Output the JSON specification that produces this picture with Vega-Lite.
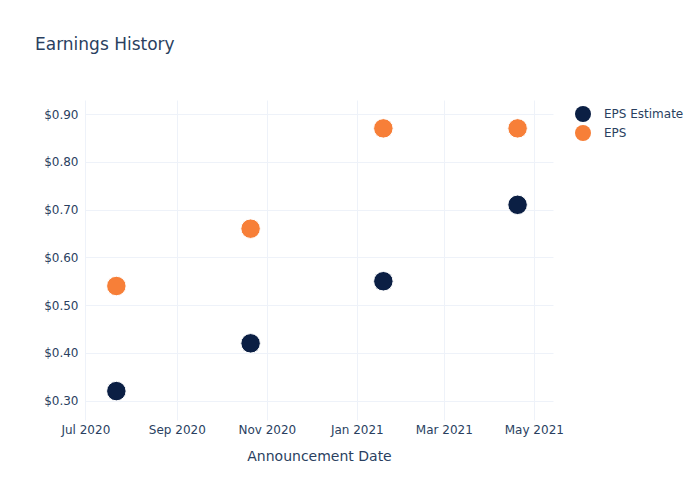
{
  "$schema": "https://vega.github.io/schema/vega-lite/v6.json",
  "width": 468,
  "height": 320,
  "autosize": {"type": "none"},
  "padding": {"left": 85, "top": 100, "right": 147, "bottom": 80},
  "background": "white",
  "title": {
    "text": "Earnings History",
    "anchor": "start",
    "frame": "group",
    "dx": -50,
    "offset": 33,
    "baseline": "alphabetic",
    "font": "DejaVu Sans",
    "fontSize": 17,
    "fontWeight": "normal",
    "color": "#2a3f5f"
  },
  "data": {
    "values": [
      {"date": "2020-07-22", "series": "EPS Estimate", "value": 0.32},
      {"date": "2020-10-21", "series": "EPS Estimate", "value": 0.42},
      {"date": "2021-01-19", "series": "EPS Estimate", "value": 0.55},
      {"date": "2021-04-20", "series": "EPS Estimate", "value": 0.71},
      {"date": "2020-07-22", "series": "EPS", "value": 0.54},
      {"date": "2020-10-21", "series": "EPS", "value": 0.66},
      {"date": "2021-01-19", "series": "EPS", "value": 0.87},
      {"date": "2021-04-20", "series": "EPS", "value": 0.87}
    ]
  },
  "mark": {"type": "circle", "size": 380, "opacity": 1, "stroke": "white", "strokeWidth": 1},
  "encoding": {
    "x": {
      "field": "date",
      "type": "temporal",
      "scale": {
        "type": "utc",
        "domain": [
          {"year": 2020, "month": 6, "date": 30, "hours": 18, "utc": true},
          {"year": 2021, "month": 5, "date": 14, "utc": true}
        ]
      },
      "axis": {
        "title": "Announcement Date",
        "values": [
          {"year": 2020, "month": 7, "date": 1, "utc": true},
          {"year": 2020, "month": 9, "date": 1, "utc": true},
          {"year": 2020, "month": 11, "date": 1, "utc": true},
          {"year": 2021, "month": 1, "date": 1, "utc": true},
          {"year": 2021, "month": 3, "date": 1, "utc": true},
          {"year": 2021, "month": 5, "date": 1, "utc": true}
        ],
        "labelExpr": "utcFormat(datum.value, '%b %Y')",
        "labelPadding": 4,
        "titlePadding": 14,
        "labelFlush": false
      }
    },
    "y": {
      "field": "value",
      "type": "quantitative",
      "scale": {"domain": [0.2595, 0.9294], "nice": false, "zero": false},
      "axis": {
        "title": null,
        "values": [0.3, 0.4, 0.5, 0.6, 0.7, 0.8, 0.9],
        "format": "$.2f",
        "labelPadding": 7
      }
    },
    "color": {
      "field": "series",
      "type": "nominal",
      "scale": {"domain": ["EPS Estimate", "EPS"], "range": ["#0b1f44", "#f77f38"]},
      "legend": {
        "title": null,
        "orient": "none",
        "legendX": 490,
        "legendY": 6,
        "padding": 0,
        "symbolSize": 256,
        "symbolType": "circle",
        "symbolStrokeWidth": 0,
        "symbolOpacity": 1,
        "labelFontSize": 12,
        "labelFont": "DejaVu Sans",
        "labelColor": "#2a3f5f",
        "labelOffset": 13,
        "rowPadding": 3
      }
    }
  },
  "config": {
    "view": {"stroke": null},
    "axis": {
      "domain": false,
      "ticks": false,
      "grid": true,
      "gridColor": "#eef2f9",
      "gridWidth": 1,
      "labelFont": "DejaVu Sans",
      "labelFontSize": 12,
      "labelColor": "#2a3f5f",
      "titleFont": "DejaVu Sans",
      "titleFontSize": 14,
      "titleFontWeight": "normal",
      "titleColor": "#2a3f5f"
    }
  }
}
